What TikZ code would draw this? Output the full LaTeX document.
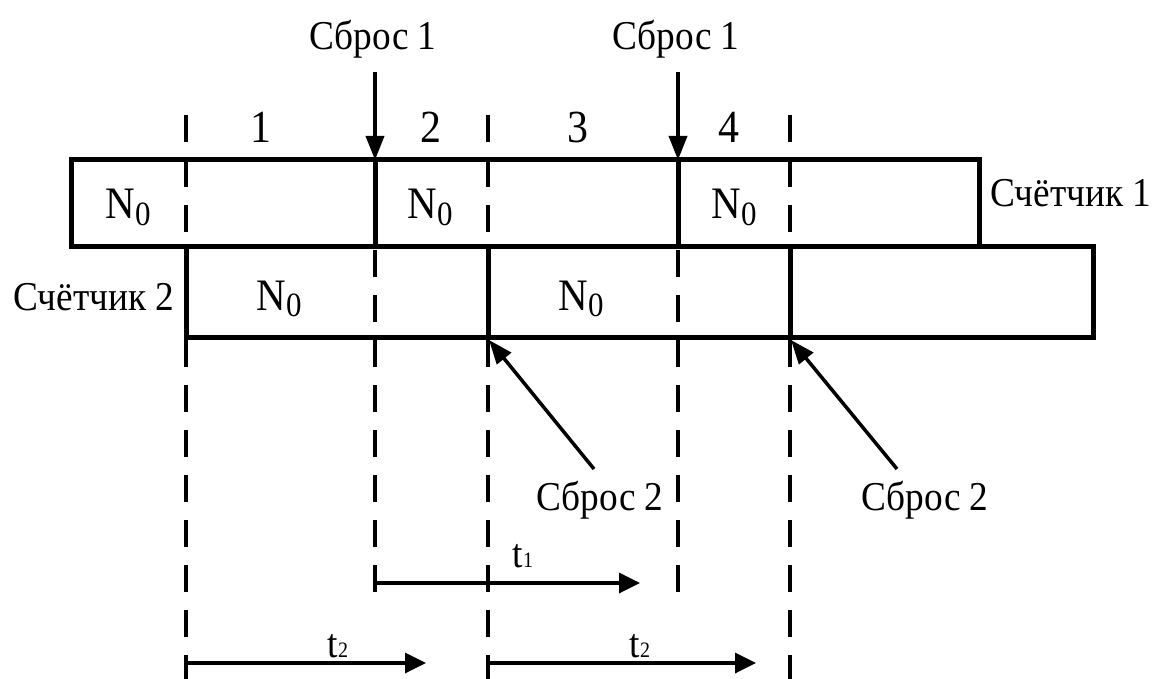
\documentclass[tikz,border=0pt]{standalone}
\usepackage{fontspec}
\setmainfont{Liberation Serif}[FakeStretch=0.91]
\usetikzlibrary{arrows.meta}
\newcommand{\Nzero}{{\fontsize{45}{45}\selectfont N\raisebox{-6pt}{\fontsize{34}{34}\selectfont 0}}}
\newcommand{\tsub}[1]{t{\fontsize{22}{22}\selectfont #1}}
\begin{document}
\begin{tikzpicture}[x=1pt,y=-1pt,
  box/.style={line width=5pt, line join=miter},
  divider/.style={line width=5pt},
  guide/.style={line width=4pt, dash pattern=on 27pt off 18pt},
  arr/.style={line width=3.5pt, -{Triangle[length=24pt,width=18pt]}},
  tarr/.style={line width=3.5pt, -{Triangle[length=21pt,width=20pt]}},
  txt/.style={inner sep=0pt, anchor=base, font=\fontsize{41}{41}\selectfont},
  num/.style={inner sep=0pt, anchor=base, font=\fontsize{46}{46}\selectfont},
  nz/.style={inner sep=0pt, anchor=base}
]
\useasboundingbox (0,0) rectangle (1154,679);

% counters
\draw[box] (71,160) rectangle (979,247);
\draw[box] (186,247) rectangle (1093,337);
\draw[divider] (375,160) -- (375,247);
\draw[divider] (678,160) -- (678,247);
\draw[divider] (488,247) -- (488,337);
\draw[divider] (790,247) -- (790,337);

% dashed guides
\draw[guide] (186,115) -- (186,679);
\draw[guide] (375,115) -- (375,592);
\draw[guide] (488,115) -- (488,679);
\draw[guide] (678,115) -- (678,592);
\draw[guide] (790,115) -- (790,679);

% interval numbers
\node[num] (n1) at (261,143) {1};
\node[num] (n2) at (431,143) {2};
\node[num] (n3) at (578,143) {3};
\node[num] (n4) at (729,143) {4};

% N0 labels
\node[nz] (a1) at (128,219) {\Nzero};
\node[nz] (a2) at (430,219) {\Nzero};
\node[nz] (a3) at (734,219) {\Nzero};
\node[nz] (b1) at (279,310) {\Nzero};
\node[nz] (b2) at (581,310) {\Nzero};

% counter names
\node[txt] (c1) at (1071,207) {Счётчик 1};
\node[txt] (c2) at (94,310) {Счётчик 2};

% reset 1
\node[txt] (s1a) at (373,50) {Сброс 1};
\node[txt] (s1b) at (676,50) {Сброс 1};
\coordinate (s1aT) at (375,72);
\coordinate (s1aH) at (375,160);
\coordinate (s1bT) at (678,72);
\coordinate (s1bH) at (678,160);
\draw[arr] (s1aT) -- (s1aH);
\draw[arr] (s1bT) -- (s1bH);

% reset 2
\node[txt] (s2a) at (600,510) {Сброс 2};
\node[txt] (s2b) at (925,510) {Сброс 2};
\coordinate (s2aT) at (594,469);
\coordinate (s2aH) at (489,340);
\coordinate (s2bT) at (897,469);
\coordinate (s2bH) at (791,340);
\draw[arr] (s2aT) -- (s2aH);
\draw[arr] (s2bT) -- (s2bH);

% time intervals
\coordinate (t1s) at (375,583);
\coordinate (t1e) at (640,583);
\draw[tarr] (t1s) -- (t1e);
\node[txt] (t1) at (523,567) {\tsub{1}};

\coordinate (t2as) at (186,663);
\coordinate (t2ae) at (426,663);
\draw[tarr] (t2as) -- (t2ae);
\node[txt] (t2a) at (338,657) {\tsub{2}};

\coordinate (t2bs) at (488,663);
\coordinate (t2be) at (756,663);
\draw[tarr] (t2bs) -- (t2be);
\node[txt] (t2b) at (640,657) {\tsub{2}};
\end{tikzpicture}
\end{document}
